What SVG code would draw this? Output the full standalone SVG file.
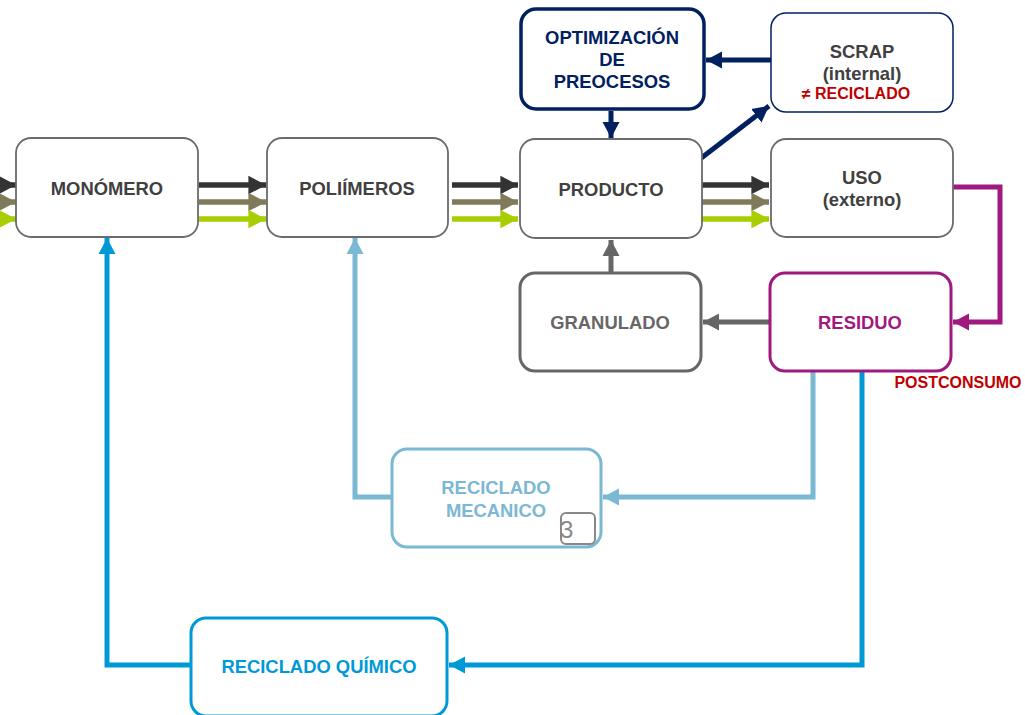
<svg xmlns="http://www.w3.org/2000/svg" width="1025" height="715" viewBox="0 0 1025 715">
<style>
text{font-family:"Liberation Sans",Arial,sans-serif;font-weight:bold;font-size:18.4px;text-anchor:middle}
.box{fill:#fff}
.g{stroke:#6b6b6b;stroke-width:1.8}
.c{fill:none;stroke-linejoin:miter}
.sm{font-size:16px}
.num{font-weight:normal;font-size:24px;text-anchor:start}
</style>
<defs>
<marker id="hDark" markerWidth="4" markerHeight="4" refX="3.2" refY="2" orient="auto" markerUnits="strokeWidth"><path d="M0,0.3L3.2,2L0,3.7z" fill="#333"/></marker>
<marker id="hOlive" markerWidth="4" markerHeight="4" refX="3.2" refY="2" orient="auto" markerUnits="strokeWidth"><path d="M0,0.3L3.2,2L0,3.7z" fill="#7f7b5a"/></marker>
<marker id="hLime" markerWidth="4" markerHeight="4" refX="3.2" refY="2" orient="auto" markerUnits="strokeWidth"><path d="M0,0.3L3.2,2L0,3.7z" fill="#a6ce00"/></marker>
<marker id="hNavy" markerWidth="4" markerHeight="4" refX="3.2" refY="2" orient="auto" markerUnits="strokeWidth"><path d="M0,0.3L3.2,2L0,3.7z" fill="#002060"/></marker>
<marker id="hGray" markerWidth="4" markerHeight="4" refX="3.2" refY="2" orient="auto" markerUnits="strokeWidth"><path d="M0,0.3L3.2,2L0,3.7z" fill="#666"/></marker>
<marker id="hPurple" markerWidth="4" markerHeight="4" refX="3.2" refY="2" orient="auto" markerUnits="strokeWidth"><path d="M0,0.3L3.2,2L0,3.7z" fill="#a0197f"/></marker>
<marker id="hLblue" markerWidth="4" markerHeight="4" refX="3.2" refY="2" orient="auto" markerUnits="strokeWidth"><path d="M0,0.3L3.2,2L0,3.7z" fill="#7bb8d3"/></marker>
<marker id="hBlue" markerWidth="4" markerHeight="4" refX="3.2" refY="2" orient="auto" markerUnits="strokeWidth"><path d="M0,0.3L3.2,2L0,3.7z" fill="#0099d8"/></marker>
</defs>

<g id="connectors" class="c">
  <g stroke-width="5.5">
    <path d="M0,185H16" stroke="#333" marker-end="url(#hDark)"/>
    <path d="M0,202H16" stroke="#7f7b5a" marker-end="url(#hOlive)"/>
    <path d="M0,219H16" stroke="#a6ce00" marker-end="url(#hLime)"/>
    <path d="M199,185H266" stroke="#333" marker-end="url(#hDark)"/>
    <path d="M199,202H266" stroke="#7f7b5a" marker-end="url(#hOlive)"/>
    <path d="M199,219H266" stroke="#a6ce00" marker-end="url(#hLime)"/>
    <path d="M452,185H518" stroke="#333" marker-end="url(#hDark)"/>
    <path d="M452,202H518" stroke="#7f7b5a" marker-end="url(#hOlive)"/>
    <path d="M452,219H518" stroke="#a6ce00" marker-end="url(#hLime)"/>
    <path d="M702,185H769" stroke="#333" marker-end="url(#hDark)"/>
    <path d="M702,202H769" stroke="#7f7b5a" marker-end="url(#hOlive)"/>
    <path d="M702,219H769" stroke="#a6ce00" marker-end="url(#hLime)"/>
  </g>
  <path d="M771,60H706" stroke="#002060" stroke-width="5" marker-end="url(#hNavy)"/>
  <path d="M611,111V138" stroke="#002060" stroke-width="5" marker-end="url(#hNavy)"/>
  <path d="M700,159L769,106" stroke="#002060" stroke-width="5" marker-end="url(#hNavy)"/>
  <path d="M953,187H1000V322H953" stroke="#a0197f" stroke-width="5" marker-end="url(#hPurple)"/>
  <path d="M769,322H703" stroke="#666" stroke-width="5" marker-end="url(#hGray)"/>
  <path d="M611,272V240" stroke="#666" stroke-width="5" marker-end="url(#hGray)"/>
  <path d="M813,372V497H603" stroke="#7bb8d3" stroke-width="5" marker-end="url(#hLblue)"/>
  <path d="M392,497H355V238" stroke="#7bb8d3" stroke-width="5" marker-end="url(#hLblue)"/>
  <path d="M862,372V665H449" stroke="#0099d8" stroke-width="5" marker-end="url(#hBlue)"/>
  <path d="M190,665H107V238" stroke="#0099d8" stroke-width="5" marker-end="url(#hBlue)"/>
</g>

<g id="monomero">
  <rect class="box g" x="16" y="138" width="182" height="99" rx="15"/>
  <text x="107" y="195" fill="#404040">MONÓMERO</text>
</g>
<g id="polimeros">
  <rect class="box g" x="267" y="138" width="181" height="99" rx="15"/>
  <text x="357" y="195" fill="#404040">POLIÍMEROS</text>
</g>
<g id="producto">
  <rect class="box g" x="520" y="139" width="182" height="99" rx="15"/>
  <text x="611" y="196" fill="#404040">PRODUCTO</text>
</g>
<g id="uso">
  <rect class="box g" x="771" y="139" width="182" height="98" rx="15"/>
  <text x="862" y="184" fill="#404040">USO</text>
  <text x="862" y="206" fill="#404040">(externo)</text>
</g>
<g id="scrap">
  <rect class="box" x="771" y="13" width="182" height="99" rx="15" stroke="#002060" stroke-width="1.5"/>
  <text x="862" y="58" fill="#404040">SCRAP</text>
  <text x="862" y="80" fill="#404040">(internal)</text>
  <text class="sm" x="856" y="99" fill="#c00000">≠ RECICLADO</text>
</g>
<g id="optimizacion">
  <rect class="box" x="521" y="9" width="183" height="100" rx="15" stroke="#002060" stroke-width="3.5"/>
  <text x="612" y="44" fill="#002060">OPTIMIZACIÓN</text>
  <text x="612" y="66" fill="#002060">DE</text>
  <text x="612" y="88" fill="#002060">PREOCESOS</text>
</g>
<g id="granulado">
  <rect class="box" x="520" y="273" width="181" height="98" rx="15" stroke="#666" stroke-width="3"/>
  <text x="610" y="329" fill="#666">GRANULADO</text>
</g>
<g id="residuo">
  <rect class="box" x="770" y="273" width="181" height="98" rx="15" stroke="#a0197f" stroke-width="3"/>
  <text x="860" y="329" fill="#a0197f">RESIDUO</text>
</g>
<g id="postconsumo">
  <text class="sm" x="958" y="388" fill="#c00000">POSTCONSUMO</text>
</g>
<g id="reciclado-mecanico">
  <rect class="box" x="392" y="449" width="209" height="98" rx="15" stroke="#7bb8d3" stroke-width="3"/>
  <text x="496" y="494" fill="#7bb8d3">RECICLADO</text>
  <text x="496" y="517" fill="#7bb8d3">MECANICO</text>
  <rect x="561" y="513" width="34" height="31" rx="5" fill="none" stroke="#888" stroke-width="2"/>
  <text class="num" x="560" y="538" fill="#888">3</text>
</g>
<g id="reciclado-quimico">
  <rect class="box" x="191" y="618" width="256" height="98" rx="15" stroke="#0099d8" stroke-width="3"/>
  <text x="319" y="673" fill="#0099d8">RECICLADO QUÍMICO</text>
</g>
</svg>
